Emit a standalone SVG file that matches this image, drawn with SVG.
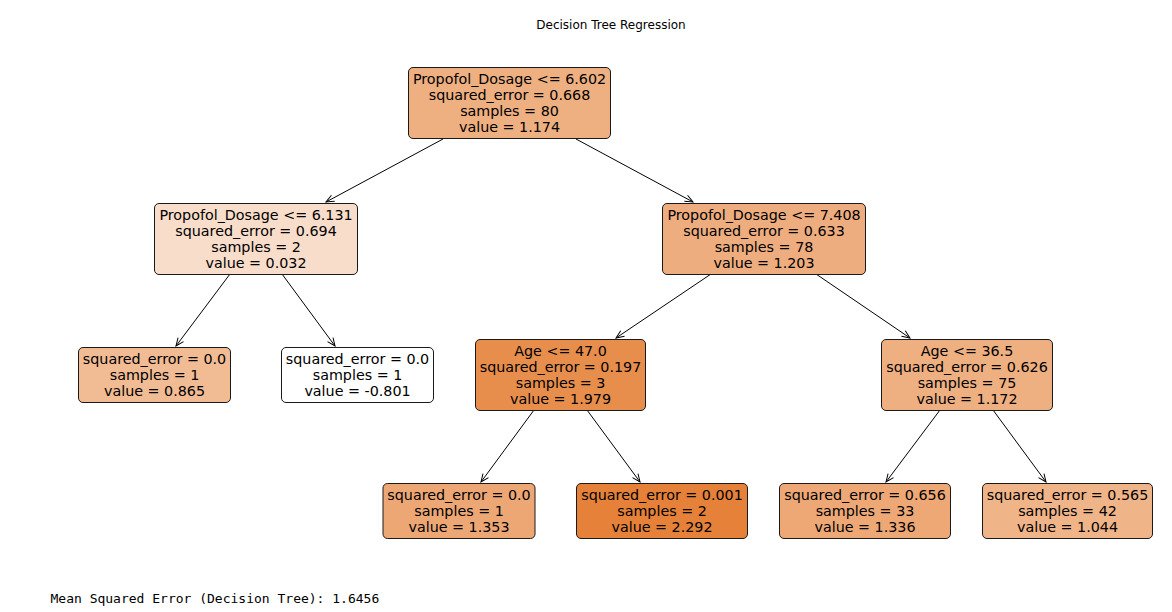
<svg xmlns="http://www.w3.org/2000/svg" width="1172" height="612" viewBox="0 0 1172 612">
<defs>
<marker id="arr" markerUnits="userSpaceOnUse" markerWidth="10" markerHeight="10" refX="0" refY="0" orient="auto" overflow="visible">
<path d="M-8,-3.4 L0,0 L-8,3.4" fill="none" stroke="#000" stroke-width="1"/>
</marker>
<style>
.box{stroke:#1a1a1a;stroke-width:1}
.t{font-family:"DejaVu Sans","Liberation Sans",sans-serif;font-size:14.3px;fill:#000;text-anchor:middle}
.e{stroke:#000;stroke-width:1;fill:none;marker-end:url(#arr)}
</style>
</defs>
<rect width="1172" height="612" fill="#fff"/>
<text x="611" y="28.5" font-family="DejaVu Sans, Liberation Sans, sans-serif" font-size="12" text-anchor="middle">Decision Tree Regression</text>

<g id="connectors">
<line class="e" x1="443" y1="139" x2="326" y2="202"/>
<line class="e" x1="576" y1="139" x2="693" y2="202"/>
<line class="e" x1="230" y1="274" x2="176" y2="346"/>
<line class="e" x1="282" y1="274" x2="335" y2="346"/>
<line class="e" x1="711" y1="274" x2="616" y2="338"/>
<line class="e" x1="816" y1="274" x2="910" y2="338"/>
<line class="e" x1="534" y1="410" x2="481" y2="482"/>
<line class="e" x1="587" y1="410" x2="640" y2="482"/>
<line class="e" x1="940" y1="410" x2="886" y2="482"/>
<line class="e" x1="993" y1="410" x2="1046" y2="482"/>
</g>

<g id="n0">
<rect class="box" x="408.5" y="67.5" width="202" height="71" rx="4.5" fill="#eeaf81"/>
<text class="t" x="509.5" y="83.5">Propofol_Dosage &lt;= 6.602</text>
<text class="t" x="509.5" y="99.6">squared_error = 0.668</text>
<text class="t" x="509.5" y="115.7">samples = 80</text>
<text class="t" x="509.5" y="131.8">value = 1.174</text>
</g>

<g id="n1">
<rect class="box" x="154.5" y="203.5" width="203" height="71" rx="4.5" fill="#f8ddca"/>
<text class="t" x="256" y="219.5">Propofol_Dosage &lt;= 6.131</text>
<text class="t" x="256" y="235.6">squared_error = 0.694</text>
<text class="t" x="256" y="251.7">samples = 2</text>
<text class="t" x="256" y="267.8">value = 0.032</text>
</g>

<g id="n4">
<rect class="box" x="662.5" y="203.5" width="203" height="71" rx="4.5" fill="#eead7f"/>
<text class="t" x="764" y="219.5">Propofol_Dosage &lt;= 7.408</text>
<text class="t" x="764" y="235.6">squared_error = 0.633</text>
<text class="t" x="764" y="251.7">samples = 78</text>
<text class="t" x="764" y="267.8">value = 1.203</text>
</g>

<g id="n2">
<rect class="box" x="78.5" y="347.5" width="152" height="55" rx="4.5" fill="#f1bb94"/>
<text class="t" x="154.5" y="363.5">squared_error = 0.0</text>
<text class="t" x="154.5" y="379.6">samples = 1</text>
<text class="t" x="154.5" y="395.7">value = 0.865</text>
</g>

<g id="n3">
<rect class="box" x="281.5" y="347.5" width="152" height="55" rx="4.5" fill="#ffffff"/>
<text class="t" x="357.5" y="363.5">squared_error = 0.0</text>
<text class="t" x="357.5" y="379.6">samples = 1</text>
<text class="t" x="357.5" y="395.7">value = -0.801</text>
</g>

<g id="n5">
<rect class="box" x="475.5" y="339.5" width="170" height="71" rx="4.5" fill="#e88e4d"/>
<text class="t" x="560.5" y="355.5">Age &lt;= 47.0</text>
<text class="t" x="560.5" y="371.6">squared_error = 0.197</text>
<text class="t" x="560.5" y="387.7">samples = 3</text>
<text class="t" x="560.5" y="403.8">value = 1.979</text>
</g>

<g id="n8">
<rect class="box" x="881.5" y="339.5" width="171" height="71" rx="4.5" fill="#eeaf81"/>
<text class="t" x="967" y="355.5">Age &lt;= 36.5</text>
<text class="t" x="967" y="371.6">squared_error = 0.626</text>
<text class="t" x="967" y="387.7">samples = 75</text>
<text class="t" x="967" y="403.8">value = 1.172</text>
</g>

<g id="n6">
<rect class="box" x="383" y="483.5" width="152" height="55" rx="4.5" fill="#eda775"/>
<text class="t" x="459" y="499.5">squared_error = 0.0</text>
<text class="t" x="459" y="515.6">samples = 1</text>
<text class="t" x="459" y="531.7">value = 1.353</text>
</g>

<g id="n7">
<rect class="box" x="576.5" y="483.5" width="171" height="55" rx="4.5" fill="#e58139"/>
<text class="t" x="662" y="499.5">squared_error = 0.001</text>
<text class="t" x="662" y="515.6">samples = 2</text>
<text class="t" x="662" y="531.7">value = 2.292</text>
</g>

<g id="n9">
<rect class="box" x="779.5" y="483.5" width="171" height="55" rx="4.5" fill="#eda876"/>
<text class="t" x="865" y="499.5">squared_error = 0.656</text>
<text class="t" x="865" y="515.6">samples = 33</text>
<text class="t" x="865" y="531.7">value = 1.336</text>
</g>

<g id="n10">
<rect class="box" x="982.5" y="483.5" width="170" height="55" rx="4.5" fill="#f0b489"/>
<text class="t" x="1067.5" y="499.5">squared_error = 0.565</text>
<text class="t" x="1067.5" y="515.6">samples = 42</text>
<text class="t" x="1067.5" y="531.7">value = 1.044</text>
</g>

<text x="50.5" y="603.3" font-family="DejaVu Sans Mono, Liberation Mono, monospace" font-size="13" fill="#000">Mean Squared Error (Decision Tree): 1.6456</text>
</svg>
